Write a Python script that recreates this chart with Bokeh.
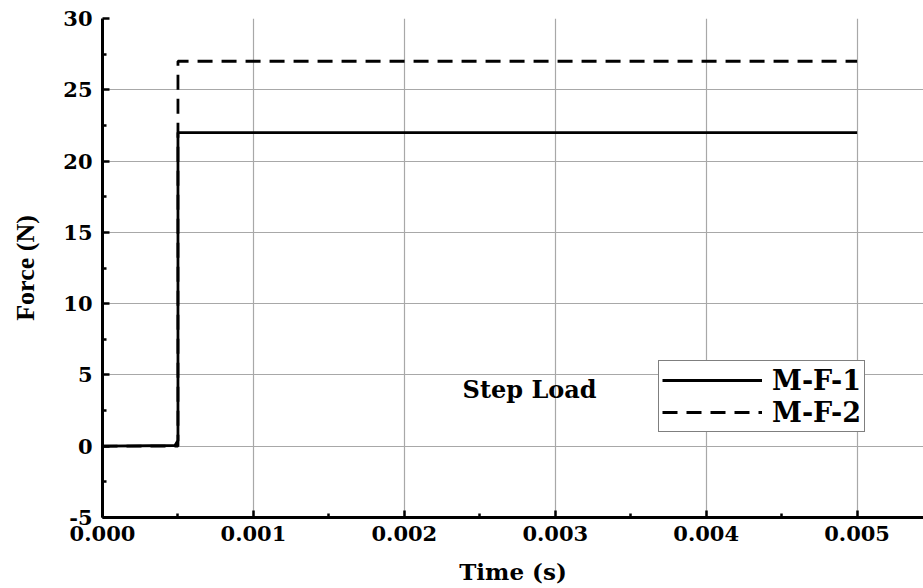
from bokeh.plotting import figure
from bokeh.models import Range1d, FixedTicker, PrintfTickFormatter, Legend, LegendItem, Label
from bokeh.embed import file_html
from bokeh.resources import INLINE

# Data
time_mf1 = [0.0, 0.00048, 0.0005, 0.0005, 0.005]
force_mf1 = [0.0, 0.05, 0.4, 22.0, 22.0]
time_mf2 = [0.0, 0.0005, 0.0005, 0.005]
force_mf2 = [0.0, 0.0, 27.0, 27.0]
x_ticks = [0.0, 0.001, 0.002, 0.003, 0.004, 0.005]
x_minor = [0.0005, 0.0015, 0.0025, 0.0035, 0.0045]
y_ticks = [-5, 0, 5, 10, 15, 20, 25, 30]
y_minor = [-2.5, 2.5, 7.5, 12.5, 17.5, 22.5, 27.5]
annotation_text = "Step Load"
annotation_x, annotation_y = 0.00283, 4.0

FONT = "DejaVu Serif"

p = figure(width=923, height=588, output_backend="svg", toolbar_location=None,
           x_range=Range1d(0, 0.00544), y_range=Range1d(-5, 30),
           min_border_left=102, min_border_right=0, min_border_top=18, min_border_bottom=71)
p.background_fill_color = "white"
p.border_fill_color = "white"
p.outline_line_color = None

r1 = p.line(time_mf1, force_mf1, line_color="black", line_width=2.8)
r2 = p.line(time_mf2, force_mf2, line_color="black", line_width=2.8, line_dash="15 9")

for ax in (p.xaxis[0], p.yaxis[0]):
    ax.axis_line_color = "black"
    ax.axis_line_width = 3
    ax.major_tick_in = 7
    ax.major_tick_out = 0
    ax.minor_tick_in = 4
    ax.minor_tick_out = 0
    ax.major_tick_line_width = 2.5
    ax.minor_tick_line_width = 2.5
    ax.major_label_text_font = FONT
    ax.major_label_text_font_style = "bold"
    ax.major_label_text_font_size = "21px"
    ax.major_label_text_color = "black"
    ax.axis_label_text_font_style = "bold"
    ax.axis_label_text_color = "black"

p.xaxis[0].ticker = FixedTicker(ticks=x_ticks, minor_ticks=x_minor)
p.xaxis[0].formatter = PrintfTickFormatter(format="%.3f")
p.xaxis[0].axis_label = "Time (s)"
p.xaxis[0].axis_label_text_font = FONT
p.xaxis[0].axis_label_text_font_size = "23px"
p.xaxis[0].major_label_standoff = 8
p.xaxis[0].axis_label_standoff = 14

p.yaxis[0].ticker = FixedTicker(ticks=y_ticks, minor_ticks=y_minor)
p.yaxis[0].formatter = PrintfTickFormatter(format="%d")
p.yaxis[0].axis_label = "Force (N)"
p.yaxis[0].axis_label_text_font = "Liberation Serif"
p.yaxis[0].axis_label_text_font_size = "26px"
p.yaxis[0].major_label_standoff = 10
p.yaxis[0].axis_label_standoff = 20

p.xgrid.ticker = FixedTicker(ticks=x_ticks)
p.ygrid.ticker = FixedTicker(ticks=y_ticks)
for g in (p.xgrid[0], p.ygrid[0]):
    g.grid_line_color = "#a8a8a8"
    g.grid_line_width = 1.2

p.add_layout(Label(x=annotation_x, y=annotation_y, text=annotation_text,
                   text_font=FONT, text_font_style="bold", text_font_size="24px",
                   text_align="center", text_baseline="middle", text_color="black"))

legend = Legend(items=[LegendItem(label="M-F-1", renderers=[r1]),
                       LegendItem(label="M-F-2", renderers=[r2])],
                location=(556, 85))
legend.label_text_font = FONT
legend.label_text_font_style = "bold"
legend.label_text_font_size = "27px"
legend.label_text_color = "black"
legend.border_line_color = "black"
legend.border_line_width = 1.5
legend.glyph_width = 100
legend.glyph_height = 32
legend.label_height = 32
legend.label_standoff = 10
legend.padding = 3
legend.spacing = 0
legend.margin = 0
legend.background_fill_alpha = 1
p.add_layout(legend)

open("out.html", "w").write(file_html(p, INLINE))
